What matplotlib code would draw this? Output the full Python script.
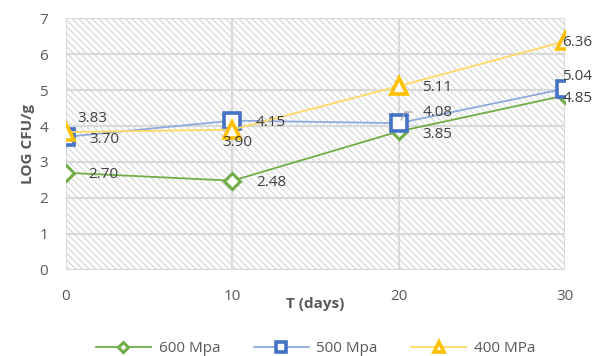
import matplotlib.pyplot as plt
from matplotlib.patches import Rectangle

days = [0, 10, 20, 30]
mpa600 = [2.70, 2.48, 3.85, 4.85]
mpa500 = [3.70, 4.15, 4.08, 5.04]
mpa400 = [3.83, 3.90, 5.11, 6.36]
labels = ['600 Mpa', '500 Mpa', '400 MPa']

plt.rcParams['font.family'] = ['Open Sans', 'DejaVu Sans']
plt.rcParams['hatch.linewidth'] = 0.8
plt.rcParams['hatch.color'] = '#d4d4d4'

fig = plt.figure(figsize=(5.95, 3.56), dpi=100)
ax = fig.add_axes([0.111, 0.242, 0.839, 0.707])

ax.add_patch(Rectangle((0, 0), 1, 1, transform=ax.transAxes, facecolor='white',
                       edgecolor='#d4d4d4', hatch='\\\\\\\\\\', linewidth=0, zorder=0))

grey = '#595959'
ax.plot(days, mpa600, color='#70AD47', lw=1.3, marker='D', ms=8, mfc='white',
        mec='#70AD47', mew=2.2, label=labels[0], zorder=3)
ax.plot(days, mpa500, color='#8FAADC', lw=1.3, marker='s', ms=11, mfc='white',
        mec='#4472C4', mew=2.6, label=labels[1], zorder=4)
ax.plot(days, mpa400, color='#FFD966', lw=1.3, marker='^', ms=11, mfc='white',
        mec='#FFC000', mew=2.6, label=labels[2], zorder=5)

# data labels (offsets in points)
offs600 = [(16, -1), (17, -1), (17, -2), (-2, -2)]
offs500 = [(17, -2), (17, -1), (17, 8), (-2, 9)]
offs400 = [(8, 10), (-7, -9), (17, -1), (-2, -1)]
for ys, offs in [(mpa600, offs600), (mpa500, offs500), (mpa400, offs400)]:
    for x, y, o in zip(days, ys, offs):
        ax.annotate(f'{y:.2f}', (x, y), xytext=o, textcoords='offset points',
                    fontsize=11, color='#404040', va='center', ha='left', zorder=6)
ax.plot([20.14, 20.38, 20.8], [4.17, 4.39, 4.39], color='#a6a6a6', lw=0.9, zorder=6)

ax.set_xlim(0, 30)
ax.set_ylim(0, 7)
ax.set_xticks(days)
ax.set_yticks(range(8))
ax.grid(color='#d9d9d9', lw=1.6, zorder=1)
ax.set_axisbelow(True)
for s in ax.spines.values():
    s.set_visible(False)
ax.tick_params(length=0, colors=grey, labelsize=11)
ax.tick_params(axis='y', pad=13)
ax.tick_params(axis='x', pad=14)
ax.set_xlabel('T (days)', fontsize=11, fontweight='bold', color=grey, labelpad=-5)
ax.set_ylabel('LOG CFU/g', fontsize=11, fontweight='bold', color=grey, labelpad=3)

ax.legend(loc='upper center', bbox_to_anchor=(0.5, -0.23), ncol=3, frameon=False,
          fontsize=11, labelcolor=grey, handlelength=3.6, columnspacing=2.2,
          markerscale=0.65, handletextpad=0.5)

fig.savefig('out.png', dpi=100)
